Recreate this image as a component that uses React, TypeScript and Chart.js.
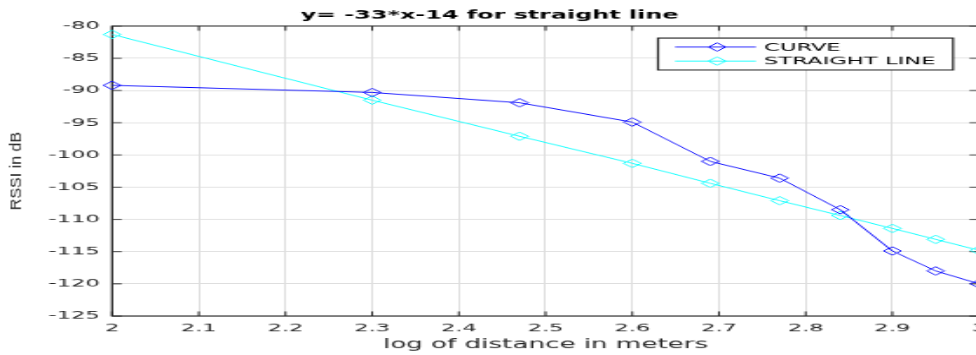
import React, { useEffect, useRef } from 'react';
import { Chart, registerables } from 'chart.js';

Chart.register(...registerables);

// ---- data ----
const xValues = [2, 2.3, 2.47, 2.6, 2.69, 2.77, 2.84, 2.9, 2.95, 3];
const curveValues = [-89.2, -90.3, -91.9, -94.9, -101, -103.6, -108.5, -114.9, -118, -120];
const straightValues = [-81.3, -91.5, -97.1, -101.3, -104.4, -107.1, -109.4, -111.4, -113.1, -114.8];
const seriesLabels = ['CURVE', 'STRAIGHT LINE'];
const seriesColors = ['#0000ff', '#00ffff'];
const titleText = 'y= -33*x-14 for straight line';
const xAxisTitle = 'log of distance in meters';
const yAxisTitle = 'RSSI in dB';
const xRange = [2, 3];
const xStep = 0.1;
const yRange = [-125, -80];
const yStep = 5;

// ---- presentation (figure is stretched like the reference) ----
const SX = 1.743;
const SY = 0.845;
const CW = 575;
const CH = 420;
const AXIS = '#262626';
const FONT = 'DejaVu Sans';
const TICK_LEN = 5.5;
const MARK_R = 5;

function diamond(ctx: CanvasRenderingContext2D, x: number, y: number, r: number) {
  ctx.beginPath();
  ctx.moveTo(x - r, y);
  ctx.lineTo(x, y - r);
  ctx.lineTo(x + r, y);
  ctx.lineTo(x, y + r);
  ctx.closePath();
  ctx.stroke();
}

const boxPlugin = {
  id: 'matlabBox',
  beforeDatasetsDraw(chart: any) {
    const { ctx, chartArea: a, scales } = chart;
    const xs = scales.x;
    const ys = scales.y;
    ctx.save();
    ctx.strokeStyle = AXIS;
    ctx.lineWidth = 1;
    ctx.beginPath();
    xs.ticks.forEach((t: any) => {
      const px = xs.getPixelForValue(t.value);
      ctx.moveTo(px, a.bottom);
      ctx.lineTo(px, a.bottom - TICK_LEN);
      ctx.moveTo(px, a.top);
      ctx.lineTo(px, a.top + TICK_LEN);
    });
    ys.ticks.forEach((t: any) => {
      const py = ys.getPixelForValue(t.value);
      ctx.moveTo(a.left, py);
      ctx.lineTo(a.left + TICK_LEN, py);
      ctx.moveTo(a.right, py);
      ctx.lineTo(a.right - TICK_LEN, py);
    });
    ctx.stroke();
    ctx.lineWidth = 1.2;
    ctx.strokeRect(a.left, a.top, a.right - a.left, a.bottom - a.top);
    ctx.restore();
  },
};

const legendPlugin = {
  id: 'matlabLegend',
  afterDraw(chart: any) {
    const { ctx, chartArea: a } = chart;
    const w = 169.3;
    const h = 37.8;
    const right = a.right - 14.9;
    const left = right - w;
    const top = a.top + 14.2;
    ctx.save();
    ctx.fillStyle = '#ffffff';
    ctx.fillRect(left, top, w, h);
    ctx.strokeStyle = AXIS;
    ctx.lineWidth = 1.2;
    ctx.strokeRect(left, top, w, h);
    const rows = [10.6, 27.2];
    chart.data.datasets.forEach((ds: any, i: number) => {
      const yy = top + rows[i];
      ctx.strokeStyle = ds.borderColor;
      ctx.lineWidth = 1;
      ctx.beginPath();
      ctx.moveTo(left + 9.8, yy);
      ctx.lineTo(left + 56.2, yy);
      ctx.stroke();
      diamond(ctx, left + 33.9, yy, MARK_R);
      ctx.fillStyle = '#000000';
      ctx.font = `13px "${FONT}"`;
      ctx.textAlign = 'left';
      ctx.textBaseline = 'middle';
      ctx.fillText(ds.label, left + 60.8, yy + 0.5);
    });
    ctx.restore();
  },
};

const yTitlePlugin = {
  id: 'yTitle',
  afterDraw(chart: any) {
    const { ctx, chartArea: a } = chart;
    ctx.save();
    ctx.scale(1 / SX, 1 / SY);
    const cy = ((a.top + a.bottom) / 2) * SY;
    ctx.translate(17, cy);
    ctx.rotate(-Math.PI / 2);
    ctx.fillStyle = AXIS;
    ctx.font = '16px "Liberation Sans"';
    ctx.textAlign = 'center';
    ctx.textBaseline = 'middle';
    ctx.fillText(yAxisTitle, 0, 0);
    ctx.restore();
  },
};

export default function App() {
  const ref = useRef<HTMLCanvasElement | null>(null);

  useEffect(() => {
    if (!ref.current) return;
    const makeData = (vals: number[]) => xValues.map((x, i) => ({ x, y: vals[i] }));
    const chart = new Chart(ref.current, {
      type: 'line',
      data: {
        datasets: [curveValues, straightValues].map((vals, i) => ({
          label: seriesLabels[i],
          data: makeData(vals),
          borderColor: seriesColors[i],
          backgroundColor: 'rgba(0,0,0,0)',
          borderWidth: 1,
          pointStyle: 'rectRot',
          pointRadius: MARK_R,
          pointBorderWidth: 1,
          pointBorderColor: seriesColors[i],
          pointBackgroundColor: 'rgba(0,0,0,0)',
          tension: 0,
          clip: false as any,
        })),
      },
      options: {
        responsive: false,
        animation: false,
        devicePixelRatio: 1,
        layout: { padding: { left: 0, right: 13.3, top: 0, bottom: 0 } },
        plugins: {
          legend: { display: false },
          tooltip: { enabled: false },
          title: {
            display: true,
            text: titleText,
            color: '#000000',
            font: { family: FONT, size: 13.7, weight: 'bold', lineHeight: 1.2 },
            padding: { top: 10.7, bottom: 3.7 },
          },
        },
        scales: {
          x: {
            type: 'linear',
            min: xRange[0],
            max: xRange[1],
            ticks: {
              stepSize: xStep,
              color: AXIS,
              padding: 7.2,
              font: { family: FONT, size: 13, lineHeight: 1.2 },
              callback: (v: any) => String(Math.round(Number(v) * 10) / 10),
            },
            grid: { color: '#dedede', lineWidth: 1, drawTicks: false },
            border: { display: false },
            title: {
              display: true,
              text: xAxisTitle,
              color: AXIS,
              font: { family: FONT, size: 15, lineHeight: 1.2 },
              padding: { top: 0, bottom: 2.7 },
            },
            afterFit: (s: any) => {
              s.height = 46;
            },
          },
          y: {
            type: 'linear',
            min: yRange[0],
            max: yRange[1],
            ticks: {
              stepSize: yStep,
              color: AXIS,
              padding: 7,
              font: { family: FONT, size: 13, lineHeight: 1.2 },
            },
            grid: { color: '#dedede', lineWidth: 1, drawTicks: false },
            border: { display: false },
            afterFit: (s: any) => {
              s.width = 64.3;
            },
          },
        },
      },
      plugins: [boxPlugin, legendPlugin, yTitlePlugin],
    });
    return () => chart.destroy();
  }, []);

  return (
    <div
      style={{
        position: 'fixed',
        left: 0,
        top: 0,
        width: 976,
        height: 355,
        overflow: 'hidden',
        background: '#ffffff',
      }}
    >
      <div
        style={{
          width: CW,
          height: CH,
          transform: `scale(${SX}, ${SY})`,
          transformOrigin: '0 0',
        }}
      >
        <canvas ref={ref} width={CW} height={CH} style={{ display: 'block' }} />
      </div>
    </div>
  );
}
